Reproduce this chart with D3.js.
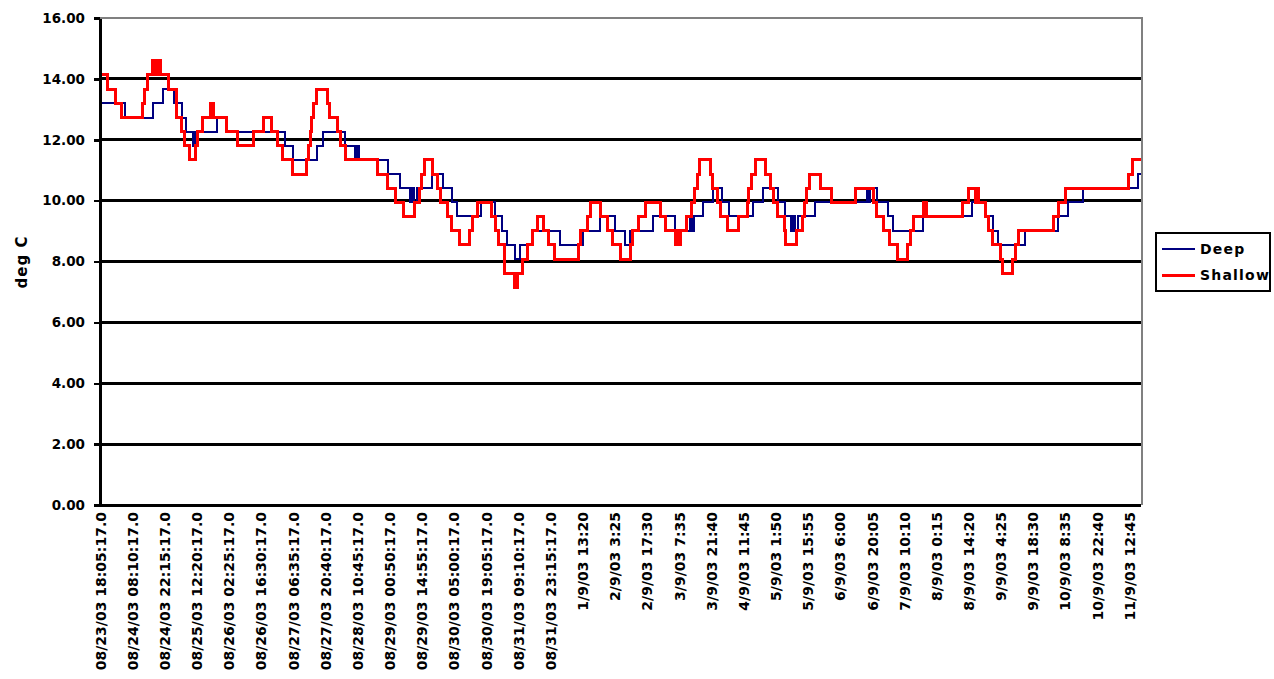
<!DOCTYPE html>
<html>
<head>
<meta charset="utf-8">
<script src="https://cdn.jsdelivr.net/npm/d3@7"></script>
<style>
  html, body { margin: 0; padding: 0; background: #ffffff; }
  svg { display: block; }
  text { font-family: "DejaVu Sans", Verdana, sans-serif; font-weight: bold; fill: #000; }
</style>
</head>
<body>
<svg id="chart" width="1274" height="679"></svg>
<script>
// Water temperature log, 5-minute readings, two loggers (deep / shallow).
// Times are hours elapsed since the first reading (08/23/03 18:05:17).
// Each series is stored as the moments its reading changed and the new value.

const tickLabels = [
  "08/23/03 18:05:17.0", "08/24/03 08:10:17.0", "08/24/03 22:15:17.0",
  "08/25/03 12:20:17.0", "08/26/03 02:25:17.0", "08/26/03 16:30:17.0",
  "08/27/03 06:35:17.0", "08/27/03 20:40:17.0", "08/28/03 10:45:17.0",
  "08/29/03 00:50:17.0", "08/29/03 14:55:17.0", "08/30/03 05:00:17.0",
  "08/30/03 19:05:17.0", "08/31/03 09:10:17.0", "08/31/03 23:15:17.0",
  "1/9/03 13:20", "2/9/03 3:25", "2/9/03 17:30", "3/9/03 7:35",
  "3/9/03 21:40", "4/9/03 11:45", "5/9/03 1:50", "5/9/03 15:55",
  "6/9/03 6:00", "6/9/03 20:05", "7/9/03 10:10", "8/9/03 0:15",
  "8/9/03 14:20", "9/9/03 4:25", "9/9/03 18:30", "10/9/03 8:35",
  "10/9/03 22:40", "11/9/03 12:45"
];
const labelStepHours = 14 + 5 / 60;   // one label every 169 readings
const totalHours = 455.8;             // span of the record

const yTicks = [0, 2, 4, 6, 8, 10, 12, 14, 16];

const deepHours = [0, 10.9, 23.2, 27.6, 32.4, 35.9, 37.7, 40.7, 41.6, 51.2,
  55.6, 81.0, 84.5, 95.0, 97.7, 107.3, 111.7, 112.5, 113.4, 126.1,
  131.4, 135.7, 136.6, 137.5, 138.8, 145.4, 150.2, 154.1, 156.3, 166.8,
  173.0, 176.0, 178.2, 181.7, 183.9, 189.6, 201.4, 211.5, 219.0, 225.5,
  229.9, 232.1, 242.2, 251.8, 258.4, 259.2, 260.1, 264.1, 268.4, 272.4,
  275.4, 286.0, 290.3, 296.9, 300.0, 302.6, 303.5, 304.3, 305.7, 313.1,
  335.9, 336.5, 337.2, 340.2, 345.1, 347.3, 360.4, 381.8, 387.5, 391.0,
  393.2, 405.1, 419.5, 423.9, 430.5, 454.5];
const deepTemps = [13.20, 12.73, 13.20, 13.66, 13.20, 12.73, 12.27, 11.80, 12.27, 12.73,
  12.27, 11.80, 11.34, 11.80, 12.27, 11.80, 11.34, 11.80, 11.34, 10.87,
  10.41, 9.94, 10.41, 9.94, 10.41, 10.87, 10.41, 9.94, 9.48, 9.94,
  9.48, 9.01, 8.55, 8.08, 8.55, 9.01, 8.55, 9.01, 9.48, 9.01,
  8.55, 9.01, 9.48, 9.01, 9.48, 9.01, 9.48, 9.94, 10.41, 9.94,
  9.48, 9.94, 10.41, 9.94, 9.48, 9.01, 9.48, 9.01, 9.48, 9.94,
  10.41, 9.94, 10.41, 9.94, 9.48, 9.01, 9.48, 9.94, 9.48, 9.01,
  8.55, 9.01, 9.48, 9.94, 10.41, 10.87];

const shallowHours = [0, 3.5, 6.6, 9.6, 18.4, 19.7, 21.0, 23.2, 24.1, 24.5,
  25.4, 25.8, 26.7, 29.8, 33.3, 33.7, 35.9, 37.2, 39.0, 42.0,
  42.9, 44.7, 48.2, 48.8, 49.3, 49.9, 55.6, 60.0, 67.0, 71.4,
  75.3, 77.5, 79.7, 84.1, 90.2, 91.1, 92.0, 92.4, 93.3, 95.0,
  99.4, 100.3, 104.2, 105.1, 107.3, 121.3, 126.1, 129.2, 132.7, 137.9,
  139.7, 140.6, 142.3, 145.4, 147.6, 148.9, 152.0, 154.1, 157.2, 162.0,
  163.3, 165.1, 171.2, 173.0, 174.3, 176.9, 177.3, 181.3, 182.6, 185.2,
  187.0, 189.2, 191.4, 194.0, 196.2, 199.2, 209.3, 210.2, 213.3, 214.6,
  219.0, 222.0, 224.6, 227.7, 232.1, 233.0, 235.6, 238.7, 245.2, 247.4,
  251.8, 252.4, 253.1, 254.0, 257.0, 259.2, 260.1, 261.4, 262.3, 267.1,
  268.0, 270.2, 271.9, 274.6, 279.4, 283.3, 283.8, 285.1, 286.8, 291.6,
  293.4, 294.7, 296.5, 299.5, 300.0, 304.8, 307.4, 308.3, 309.2, 310.5,
  315.3, 320.5, 330.6, 338.5, 340.2, 342.9, 345.5, 349.0, 353.4, 354.7,
  356.0, 360.4, 361.7, 377.5, 380.1, 383.2, 383.8, 384.5, 387.5, 388.9,
  390.6, 394.1, 395.0, 399.4, 400.7, 402.0, 417.3, 419.5, 422.6, 450.2,
  451.9];
const shallowTemps = [14.13, 13.66, 13.20, 12.73, 13.20, 13.66, 14.13, 14.59, 14.13, 14.59,
  14.13, 14.59, 14.13, 13.66, 13.20, 12.73, 12.27, 11.80, 11.34, 11.80,
  12.27, 12.73, 13.20, 12.73, 13.20, 12.73, 12.27, 11.80, 12.27, 12.73,
  12.27, 11.80, 11.34, 10.87, 11.34, 11.80, 12.27, 12.73, 13.20, 13.66,
  13.20, 12.73, 12.27, 11.80, 11.34, 10.87, 10.41, 9.94, 9.48, 9.94,
  10.41, 10.87, 11.34, 10.87, 10.41, 9.94, 9.48, 9.01, 8.55, 9.01,
  9.48, 9.94, 9.48, 9.01, 8.55, 8.08, 7.62, 7.15, 7.62, 8.08,
  8.55, 9.01, 9.48, 9.01, 8.55, 8.08, 8.55, 9.01, 9.48, 9.94,
  9.48, 9.01, 8.55, 8.08, 8.55, 9.01, 9.48, 9.94, 9.48, 9.01,
  8.55, 9.01, 8.55, 9.01, 9.48, 9.94, 10.41, 10.87, 11.34, 10.87,
  10.41, 9.94, 9.48, 9.01, 9.48, 9.94, 10.41, 10.87, 11.34, 10.87,
  10.41, 9.94, 9.48, 9.01, 8.55, 9.01, 9.48, 9.94, 10.41, 10.87,
  10.41, 9.94, 10.41, 9.94, 9.48, 9.01, 8.55, 8.08, 8.55, 9.01,
  9.48, 9.94, 9.48, 9.94, 10.41, 9.94, 10.41, 9.94, 9.48, 9.01,
  8.55, 8.08, 7.62, 8.08, 8.55, 9.01, 9.48, 9.94, 10.41, 10.87,
  11.34];

const seriesNames = ["Deep", "Shallow"];
const seriesColors = ["#000080", "#ff0000"];

// ---- layout ----
const plot = { left: 100, right: 1141, top: 18, bottom: 505 };
const svg = d3.select("#chart");

const x = d3.scaleLinear().domain([0, totalHours]).range([plot.left, plot.right]);
const y = d3.scaleLinear().domain([0, 16]).range([plot.bottom, plot.top]);

// horizontal gridlines (black), top and right frame in grey
svg.append("g")
  .selectAll("line")
  .data(yTicks.filter(v => v > 0 && v < 16))
  .join("line")
  .attr("x1", plot.left).attr("x2", plot.right)
  .attr("y1", d => y(d)).attr("y2", d => y(d))
  .attr("stroke", "#000").attr("stroke-width", 3)
  .attr("shape-rendering", "crispEdges");

svg.append("path")
  .attr("d", `M${plot.left},${y(16)}H${plot.right + 1}V${plot.bottom}`)
  .attr("fill", "none")
  .attr("stroke", "#808080").attr("stroke-width", 2.5)
  .attr("shape-rendering", "crispEdges");

// series as step lines
function toPoints(hours, temps) {
  const pts = hours.map((h, i) => [h, temps[i]]);
  pts.push([totalHours, temps[temps.length - 1]]);
  return pts;
}
const line = d3.line()
  .x(d => x(d[0]))
  .y(d => y(d[1]))
  .curve(d3.curveStepAfter);

const series = [
  { name: seriesNames[0], color: seriesColors[0], width: 2, pts: toPoints(deepHours, deepTemps) },
  { name: seriesNames[1], color: seriesColors[1], width: 3, pts: toPoints(shallowHours, shallowTemps) }
];

svg.append("g")
  .selectAll("path")
  .data(series)
  .join("path")
  .attr("d", d => line(d.pts))
  .attr("fill", "none")
  .attr("stroke", d => d.color)
  .attr("stroke-width", d => d.width)
  .attr("stroke-linejoin", "miter")
  .attr("shape-rendering", "crispEdges");

// y axis
const yAxis = d3.axisLeft(y)
  .tickValues(yTicks)
  .tickFormat(d3.format(".2f"))
  .tickSize(6)
  .tickSizeOuter(0)
  .tickPadding(9);
const gy = svg.append("g")
  .attr("transform", `translate(${plot.left},0)`)
  .call(yAxis);
gy.select(".domain").attr("stroke", "#000").attr("stroke-width", 3).attr("shape-rendering", "crispEdges");
gy.selectAll(".tick line").attr("stroke", "#000").attr("stroke-width", 2.5).attr("shape-rendering", "crispEdges");
gy.selectAll(".tick text")
  .style("font-family", "'DejaVu Sans', sans-serif")
  .style("font-weight", "bold")
  .style("font-size", "13.5px")
  .attr("fill", "#000");

// x axis with rotated time labels
const xAxis = d3.axisBottom(x)
  .tickValues(tickLabels.map((_, i) => i * labelStepHours))
  .tickFormat((d, i) => tickLabels[i])
  .tickSize(0)
  .tickSizeOuter(0);
const gx = svg.append("g")
  .attr("transform", `translate(0,${plot.bottom})`)
  .call(xAxis);
gx.select(".domain")
  .attr("d", `M${plot.left - 6},0H${plot.right}`)
  .attr("stroke", "#000").attr("stroke-width", 3).attr("shape-rendering", "crispEdges");
gx.selectAll(".tick text")
  .attr("transform", "rotate(-90)")
  .attr("text-anchor", "end")
  .attr("x", -7)
  .attr("y", 0)
  .attr("dy", "0.36em")
  .style("font-family", "'DejaVu Sans', sans-serif")
  .style("font-weight", "bold")
  .style("font-size", "14px")
  .attr("fill", "#000");

// y axis title
svg.append("text")
  .attr("transform", "translate(27,262) rotate(-90)")
  .attr("text-anchor", "middle")
  .style("font-size", "15px")
  .style("letter-spacing", "1px")
  .text("deg C");

// legend
const legend = { x: 1156, y: 233, w: 114, h: 58 };
svg.append("clipPath").attr("id", "legend-clip")
  .append("rect")
  .attr("x", legend.x).attr("y", legend.y)
  .attr("width", legend.w).attr("height", legend.h);
const lg = svg.append("g");
lg.append("rect")
  .attr("x", legend.x).attr("y", legend.y)
  .attr("width", legend.w).attr("height", legend.h)
  .attr("fill", "#fff");
const items = lg.append("g").attr("clip-path", "url(#legend-clip)")
  .selectAll("g")
  .data(series)
  .join("g")
  .attr("transform", (d, i) => `translate(${legend.x},${legend.y + 16 + i * 26})`);
items.append("line")
  .attr("x1", 6).attr("x2", 39)
  .attr("y1", 0).attr("y2", 0)
  .attr("stroke", d => d.color)
  .attr("stroke-width", (d, i) => i === 0 ? 1.5 : 3)
  .attr("shape-rendering", "crispEdges");
items.append("text")
  .attr("x", 44).attr("y", 0).attr("dy", "0.36em")
  .style("font-size", "14px")
  .style("letter-spacing", "1.2px")
  .text(d => d.name);
lg.append("rect")
  .attr("x", legend.x).attr("y", legend.y)
  .attr("width", legend.w).attr("height", legend.h)
  .attr("fill", "none")
  .attr("stroke", "#000").attr("stroke-width", 2)
  .attr("shape-rendering", "crispEdges");
</script>
</body>
</html>
